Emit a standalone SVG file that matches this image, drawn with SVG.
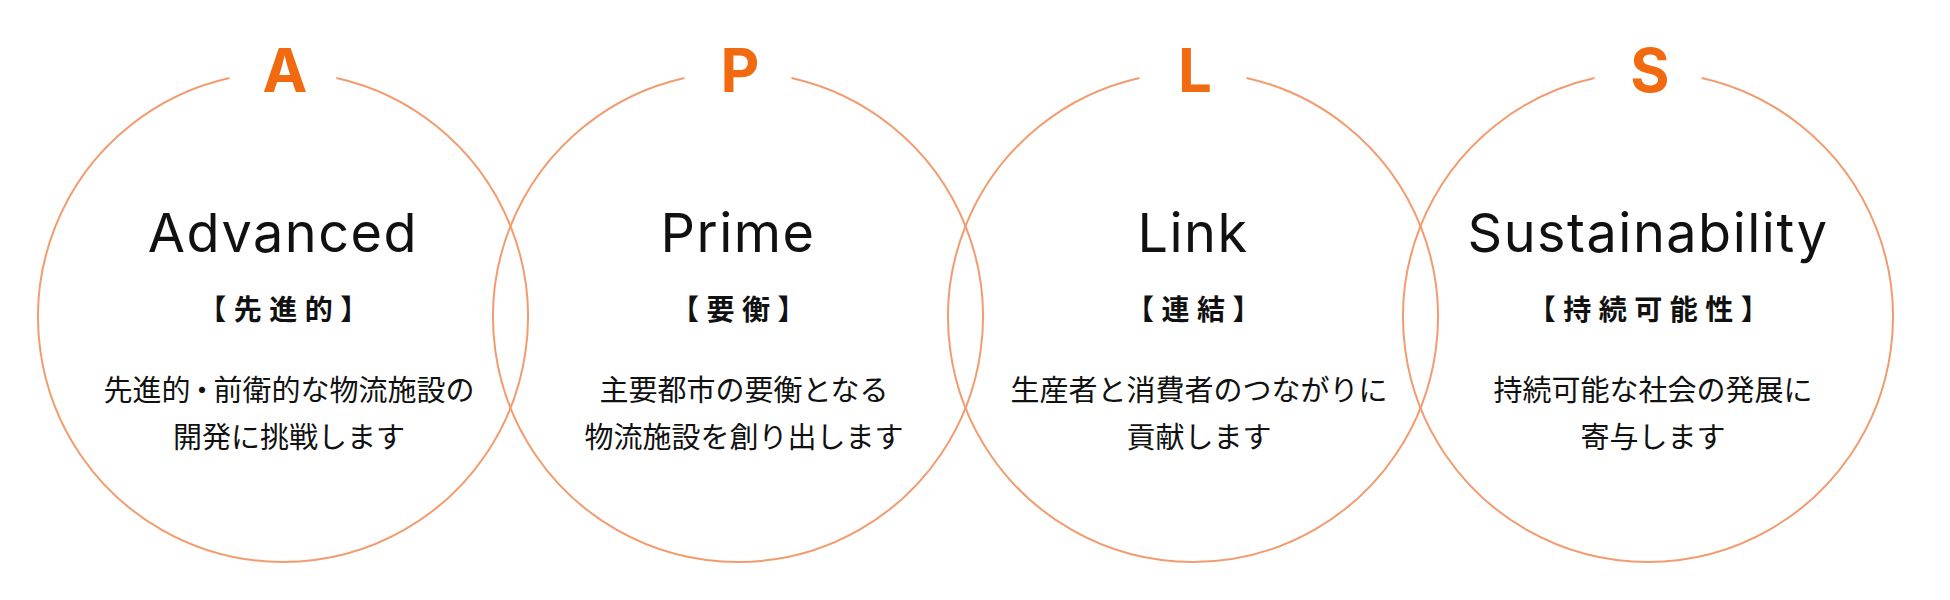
<svg xmlns="http://www.w3.org/2000/svg" width="1950" height="600" viewBox="0 0 1950 600">
  <style>
    .ring { fill: none; stroke: #F39B6E; stroke-width: 2; }
    .letter { font-family: Inter, "Liberation Sans", sans-serif; font-weight: 700; font-size: 60px; fill: #F26A10; text-anchor: middle; }
    .title { font-family: Inter, "Liberation Sans", sans-serif; font-weight: 400; font-size: 54px; fill: #111111; text-anchor: middle; letter-spacing: 1.5px; }
    .sub { font-family: "Noto Sans CJK JP", "Noto Sans", sans-serif; font-weight: 700; font-size: 28px; fill: #111111; text-anchor: middle; letter-spacing: 7.5px; }
    .body { font-family: "Noto Sans CJK JP", "Noto Sans", sans-serif; font-weight: 400; font-size: 29px; fill: #111111; text-anchor: middle; }
    .tight { letter-spacing: -3px; }
  </style>
  <rect width="1950" height="600" fill="#FFFFFF"/>

  <g id="node-advanced">
    <path class="ring" d="M 336.5 77.9 A 245 245 0 1 1 229.5 77.9"/>
    <text class="letter" x="285" y="92">A</text>
    <text class="title" x="283" y="252">Advanced</text>
    <text class="sub" x="287" y="320">【先進的】</text>
    <text class="body" x="289" y="401">先進<tspan class="tight">的・</tspan>前衛的な物流施設の</text>
    <text class="body" x="289" y="448">開発に挑戦します</text>
  </g>

  <g id="node-prime">
    <path class="ring" d="M 791.5 77.9 A 245 245 0 1 1 684.5 77.9"/>
    <text class="letter" x="740" y="92">P</text>
    <text class="title" x="738" y="252">Prime</text>
    <text class="sub" x="742" y="320">【要衡】</text>
    <text class="body" x="744" y="401">主要都市の要衡となる</text>
    <text class="body" x="744" y="448">物流施設を創り出します</text>
  </g>

  <g id="node-link">
    <path class="ring" d="M 1246.5 77.9 A 245 245 0 1 1 1139.5 77.9"/>
    <text class="letter" x="1195" y="92">L</text>
    <text class="title" x="1193" y="252">Link</text>
    <text class="sub" x="1197" y="320">【連結】</text>
    <text class="body" x="1199" y="401">生産者と消費者のつながりに</text>
    <text class="body" x="1199" y="448">貢献します</text>
  </g>

  <g id="node-sustainability">
    <path class="ring" d="M 1701.5 77.9 A 245 245 0 1 1 1594.5 77.9"/>
    <text class="letter" x="1650" y="92">S</text>
    <text class="title" x="1648" y="252">Sustainability</text>
    <text class="sub" x="1652" y="320">【持続可能性】</text>
    <text class="body" x="1653" y="401">持続可能な社会の発展に</text>
    <text class="body" x="1653" y="448">寄与します</text>
  </g>
</svg>
